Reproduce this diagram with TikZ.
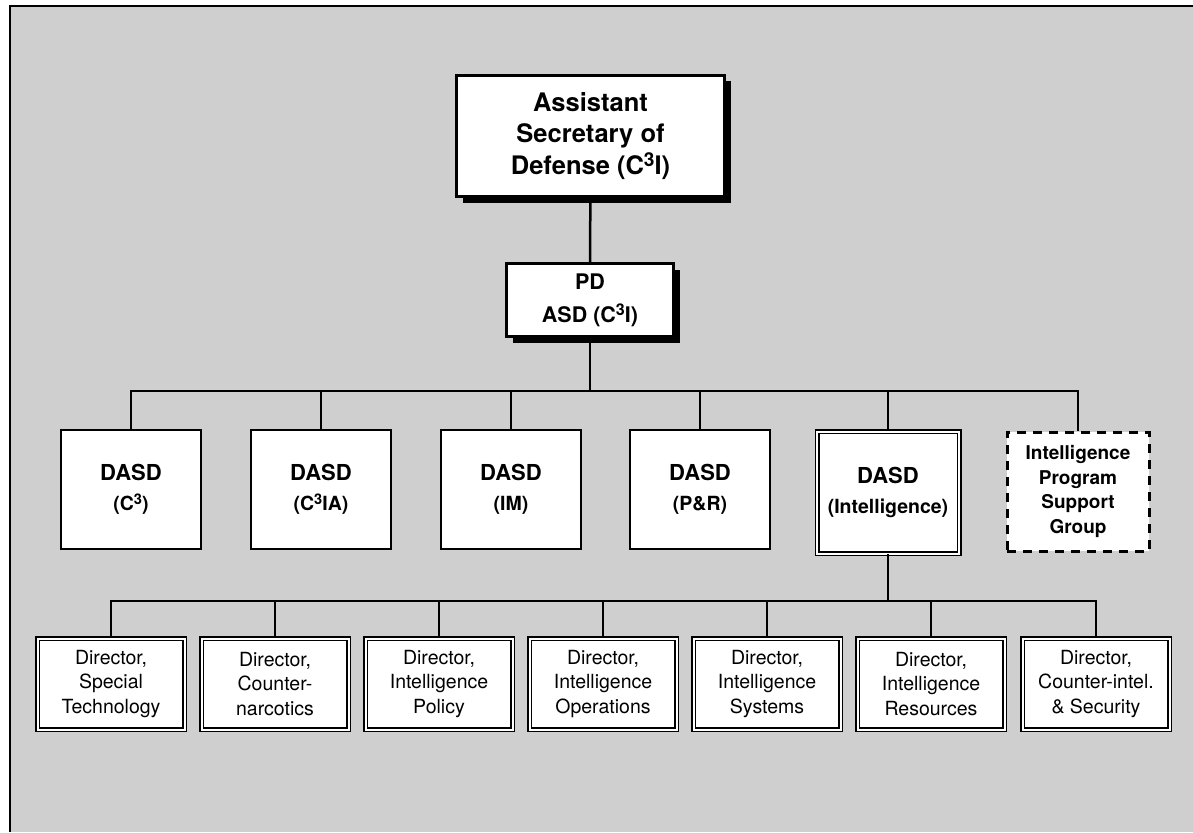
\documentclass[tikz,border=0pt]{standalone}
\usepackage{fontspec}
\setmainfont{TeX Gyre Heros}
\usetikzlibrary{shadows}
\definecolor{bggray}{gray}{0.81}
\newcommand\sthree{\raisebox{0.3em}{\scalebox{0.75}{3}}}
\begin{document}
\begin{tikzpicture}[x=1pt,y=-1pt,
  conn/.style={line width=2.5pt},
  topbox/.style={draw, line width=3pt, fill=white, align=center,
    drop shadow={shadow xshift=6pt, shadow yshift=-6pt, fill=black, opacity=1}},
  dasdbox/.style={draw, line width=2.5pt, fill=white, align=center,
    minimum width=140pt, minimum height=119pt, inner sep=0pt,
    font=\fontsize{22}{30}\selectfont\bfseries},
  intelbox/.style={draw, double, double distance=2pt, line width=1.5pt, fill=white, align=center,
    minimum width=142pt, minimum height=122pt, inner sep=0pt,
    font=\fontsize{22}{30}\selectfont\bfseries},
  supportbox/.style={draw, line width=3pt, dash pattern=on 9pt off 7pt, fill=white, align=center,
    minimum width=142pt, minimum height=119pt, inner sep=0pt,
    font=\fontsize{19}{24.5}\selectfont\bfseries},
  dirbox/.style={draw, double, double distance=2pt, line width=1.5pt, fill=white, align=center,
    minimum width=147pt, minimum height=91pt, inner sep=0pt,
    font=\fontsize{19.5}{24.5}\selectfont}
]
\useasboundingbox (0,0) rectangle (1193,832);
\fill[bggray] (10,6) rectangle (1193,832);
\draw[line width=2.5pt] (10,832) -- (10,6) -- (1193,6);

% top
\node[topbox, minimum width=268pt, minimum height=121pt, inner sep=0pt,
  font=\fontsize{25.5}{31.5}\selectfont\bfseries] (asd) at (590.5,136)
  {Assistant\\Secretary of\\Defense (C\sthree I)};
\node[topbox, minimum width=167pt, minimum height=73pt, inner sep=0pt,
  font=\fontsize{21.5}{33}\selectfont\bfseries] (pd) at (590,300)
  {PD\\ASD (C\sthree I)};

% DASD row
\node[dasdbox] (d1) at (131,489.5) {DASD\\{\fontsize{19.5}{30}\selectfont (C\sthree)}};
\node[dasdbox] (d2) at (321,489.5) {DASD\\{\fontsize{19.5}{30}\selectfont (C\sthree IA)}};
\node[dasdbox] (d3) at (511,489.5) {DASD\\{\fontsize{19.5}{30}\selectfont (IM)}};
\node[dasdbox] (d4) at (700,489.5) {DASD\\{\fontsize{19.5}{30}\selectfont (P\&R)}};
\node[intelbox] (d5) at (888,492.5) {DASD\\{\fontsize{19.5}{30}\selectfont (Intelligence)}};
\node[supportbox] (d6) at (1078,491.5) {Intelligence\\Program\\Support\\Group};

% Director row
\node[dirbox] (r1) at (111,684) {Director,\\Special\\Technology};
\node[dirbox] (r2) at (275,684) {Director,\\Counter-\\narcotics};
\node[dirbox] (r3) at (439,684) {Director,\\Intelligence\\Policy};
\node[dirbox] (r4) at (603,684) {Director,\\Intelligence\\Operations};
\node[dirbox] (r5) at (767,684) {Director,\\Intelligence\\Systems};
\node[dirbox] (r6) at (931,684) {Director,\\Intelligence\\Resources};
\node[dirbox] (r7) at (1096,684) {Director,\\Counter-intel.\\\& Security};

\coordinate (bus1) at (590,391);
\coordinate (bus2) at (888,601);

\draw[conn] (asd) -- (pd);
\draw[conn] (pd.south) -- (bus1);
\foreach \n in {d1,d2,d3,d4,d5,d6}
  \draw[conn] (bus1) -| (\n.north);
\draw[conn] (d5.south) -- (bus2);
\foreach \n in {r1,r2,r3,r4,r5,r6,r7}
  \draw[conn] (bus2) -| (\n.north);
\end{tikzpicture}
\end{document}
